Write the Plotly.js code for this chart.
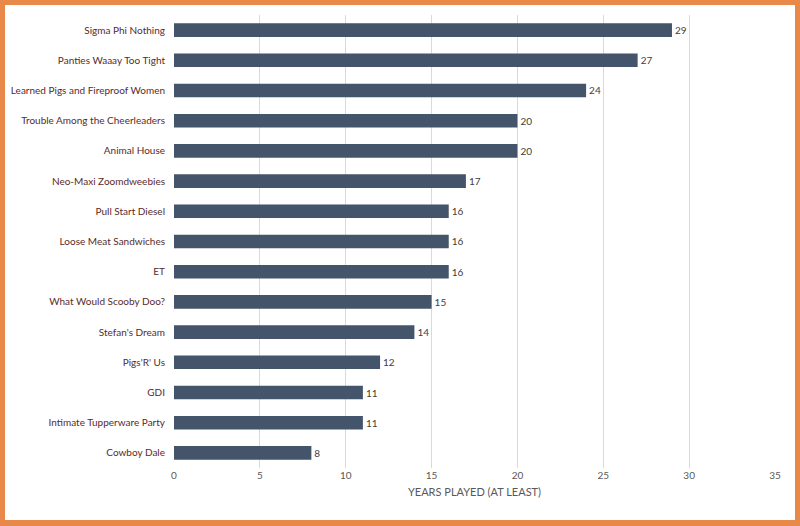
<!DOCTYPE html>
<html>
<head>
<meta charset="utf-8">
<script src="https://cdn.plot.ly/plotly-3.0.1.min.js"></script>
<style>
  html, body { margin: 0; padding: 0; background: #fff; }
  #frame { position: absolute; left: 0; top: 0; width: 800px; height: 526px; box-sizing: border-box;
           border: 5px solid #e8894a; border-bottom-width: 6px; }
  #chart { position: absolute; left: 0; top: 0; width: 800px; height: 526px; }
</style>
</head>
<body>
<div id="chart"></div>
<div id="frame"></div>
<script>
// bands, bottom to top as drawn by the y axis
const bands = [
    "Cowboy Dale", "Intimate Tupperware Party", "GDI", "Pigs'R' Us", "Stefan's Dream",
    "What Would Scooby Doo?", "ET", "Loose Meat Sandwiches", "Pull Start Diesel",
    "Neo-Maxi Zoomdweebies", "Animal House", "Trouble Among the Cheerleaders",
    "Learned Pigs and Fireproof Women", "Panties Waaay Too Tight", "Sigma Phi Nothing"
];
const years = [8, 11, 11, 12, 14, 15, 16, 16, 16, 17, 20, 20, 24, 27, 29];

const trace = {
    type: "bar",
    orientation: "h",
    x: years,
    y: bands,
    width: 0.45,
    marker: { color: "#44546a" },
    text: years.map(String),
    textposition: "outside",
    textfont: { color: "#404040", size: 10 },
    cliponaxis: false,
    hoverinfo: "skip",
};

const layout = {
    width: 800, height: 526,
    paper_bgcolor: "#fff", plot_bgcolor: "#fff",
    margin: { l: 174, r: 25, t: 15, b: 58 },
    font: { family: "Lato, 'Open Sans', sans-serif", color: "#5a2a2a", size: 10 },
    showlegend: false,
    xaxis: {
        range: [0, 35], dtick: 5,
        showgrid: true, gridcolor: "#d9d9d9", zeroline: false,
        tickfont: { color: "#595959", size: 10 },
        title: { text: "YEARS PLAYED (AT LEAST)", font: { color: "#595959", size: 11 }, standoff: 8 },
    },
    yaxis: {
        ticks: "", ticklabelstandoff: 8,
        tickfont: { color: "#5a2a2a", size: 10 },
        showgrid: false,
    },
};

Plotly.newPlot("chart", [trace], layout, { staticPlot: true });
</script>
</body>
</html>
